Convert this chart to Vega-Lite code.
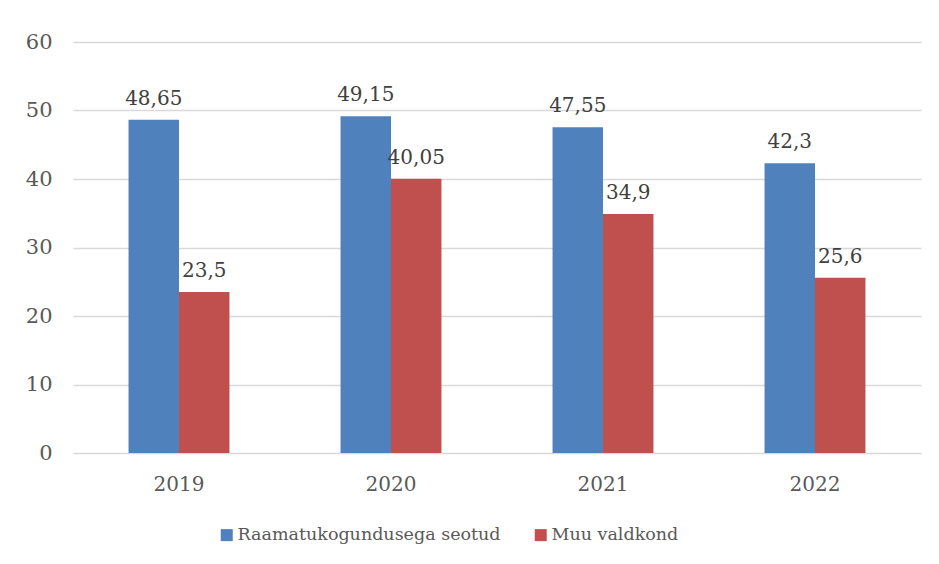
{
  "$schema": "https://vega.github.io/schema/vega-lite/v6.json",
  "autosize": {"type": "none"},
  "width": 848,
  "height": 411,
  "padding": {"left": 73, "top": 42, "right": 18, "bottom": 111},
  "background": "white",
  "config": {
    "locale": {"number": {"decimal": ",", "thousands": " ", "grouping": [3], "currency": ["", " €"]}},
    "view": {"stroke": null},
    "font": "DejaVu Serif",
    "axis": {"labelFont": "DejaVu Serif", "labelColor": "#595959", "labelFontSize": 20},
    "legend": {"labelFont": "DejaVu Serif", "labelFontSize": 17.5, "labelColor": "#595959"}
  },
  "data": {
    "values": [
      {"aasta": "2019", "valdkond": "Raamatukogundusega seotud", "vaartus": 48.65},
      {"aasta": "2019", "valdkond": "Muu valdkond", "vaartus": 23.5},
      {"aasta": "2020", "valdkond": "Raamatukogundusega seotud", "vaartus": 49.15},
      {"aasta": "2020", "valdkond": "Muu valdkond", "vaartus": 40.05},
      {"aasta": "2021", "valdkond": "Raamatukogundusega seotud", "vaartus": 47.55},
      {"aasta": "2021", "valdkond": "Muu valdkond", "vaartus": 34.9},
      {"aasta": "2022", "valdkond": "Raamatukogundusega seotud", "vaartus": 42.3},
      {"aasta": "2022", "valdkond": "Muu valdkond", "vaartus": 25.6}
    ]
  },
  "encoding": {
    "x": {
      "field": "aasta", "type": "nominal",
      "scale": {"paddingInner": 0.524, "paddingOuter": 0.262},
      "axis": {"title": null, "labelAngle": 0, "ticks": false, "domain": false, "labelPadding": 21, "grid": false}
    },
    "xOffset": {"field": "valdkond", "type": "nominal", "sort": ["Raamatukogundusega seotud", "Muu valdkond"], "scale": {"paddingInner": 0, "paddingOuter": 0}},
    "y": {
      "field": "vaartus", "type": "quantitative",
      "scale": {"domain": [0, 60], "nice": false},
      "axis": {"title": null, "values": [0, 10, 20, 30, 40, 50, 60], "ticks": false, "domain": false, "labelAlign": "right", "labelPadding": 21, "labelFontSize": 21, "gridColor": "#D9D9D9", "gridWidth": 1.5}
    }
  },
  "layer": [
    {
      "mark": {"type": "bar"},
      "encoding": {
        "color": {
          "field": "valdkond", "type": "nominal",
          "sort": ["Raamatukogundusega seotud", "Muu valdkond"],
          "scale": {"domain": ["Raamatukogundusega seotud", "Muu valdkond"], "range": ["#4F81BD", "#C0504D"]},
          "legend": {
            "title": null, "orient": "none", "legendX": 145, "legendY": 484, "direction": "horizontal",
            "symbolType": "square", "symbolSize": 144, "symbolStrokeWidth": 0,
            "labelFont": "DejaVu Serif", "labelFontSize": 17.5, "labelColor": "#595959",
            "labelOffset": 2, "columnPadding": 31, "labelLimit": 400
          }
        }
      }
    },
    {
      "mark": {"type": "text", "baseline": "alphabetic", "dy": -15, "fontSize": 20, "color": "#404040", "font": "DejaVu Serif"},
      "encoding": {
        "text": {"field": "vaartus", "type": "quantitative", "format": "~r"}
      }
    }
  ]
}
